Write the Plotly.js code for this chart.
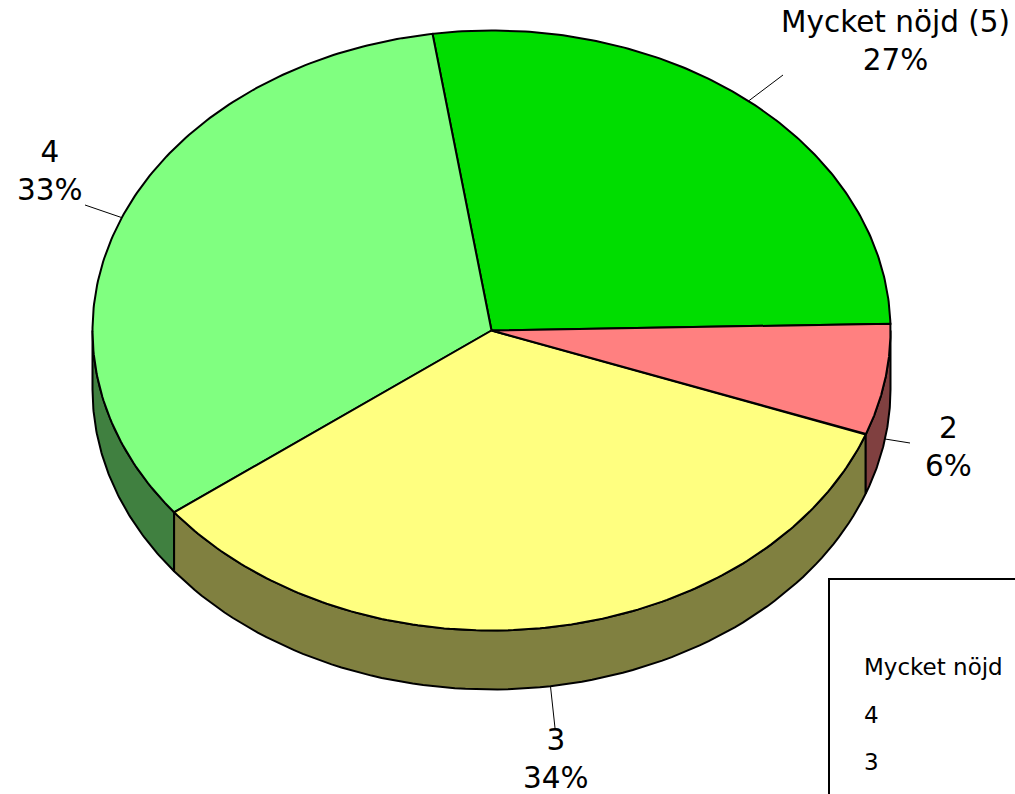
<!DOCTYPE html>
<html>
<head>
<meta charset="utf-8">
<script src="https://cdn.plot.ly/plotly-3.0.1.min.js"></script>
<style>html,body{margin:0;padding:0;background:#fff;}#chart{width:1015px;height:794px;}</style>
</head>
<body>
<div id="chart"></div>
<script>
// ---- data ----
const categories = ["Mycket nöjd (5)", "4", "3", "2"];
const values = [27, 33, 34, 6];
const topColors = ["#00DD00", "#80FF80", "#FFFF80", "#FF8080"];
const sideColors = ["#006F00", "#408040", "#808040", "#804040"];

// ---- geometry / style (not data) ----
const CX = 491.5, CY = 330.5, RA = 399, RB = 300, DEPTH = 59;
const START_DEG = 1.3; // parametric start angle, slices drawn counter-clockwise
const FONT = "DejaVu Sans, Verdana, sans-serif";
const labelPos = [ {x: 895, y: 41, ex: 783, ey: 75},
                   {x: 50, y: 171, ex: 85, ey: 205},
                   {x: 556, y: 759, ex: 555, ey: 728},
                   {x: 948, y: 447, ex: 910, ey: 443} ];
const legendX = 862, legendY0 = 667, legendDY = 47.5;

const total = values.reduce((a, b) => a + b, 0);
const rad = d => d * Math.PI / 180;
const px = t => CX + RA * Math.cos(rad(t));
const py = t => CY - RB * Math.sin(rad(t));

// slice angular intervals
const slices = [];
let acc = START_DEG;
values.forEach((v, i) => {
  const span = v / total * 360;
  slices.push({s: acc, e: acc + span, i: i});
  acc += span;
});

const traces = [];
function arcPts(a, b, n) {
  const xs = [], ys = [];
  for (let k = 0; k <= n; k++) {
    const t = a + (b - a) * k / n;
    xs.push(px(t)); ys.push(py(t));
  }
  return [xs, ys];
}

// side faces (front half: parametric angles 180..360 mod 360)
slices.forEach(sl => {
  [[180, 360], [540, 720]].forEach(([lo, hi]) => {
    const a = Math.max(sl.s, lo), b = Math.min(sl.e, hi);
    if (b - a > 0.01) {
      const [xs, ys] = arcPts(a, b, 80);
      const bx = xs.slice().reverse();
      const by = ys.slice().reverse().map(y => y + DEPTH);
      traces.push({
        type: "scatter", mode: "lines", x: xs.concat(bx, [xs[0]]), y: ys.concat(by, [ys[0]]),
        fill: "toself", fillcolor: sideColors[sl.i], line: {color: "#000", width: 2},
        hoverinfo: "skip", showlegend: false
      });
    }
  });
});

// top faces
slices.forEach(sl => {
  const [xs, ys] = arcPts(sl.s, sl.e, 160);
  traces.push({
    type: "scatter", mode: "lines", x: [CX].concat(xs, [CX]), y: [CY].concat(ys, [CY]),
    fill: "toself", fillcolor: topColors[sl.i], line: {color: "#000", width: 2},
    hoverinfo: "skip", showlegend: false, name: categories[sl.i]
  });
});

// labels and leader lines
const annotations = [];
const shapes = [];
slices.forEach(sl => {
  const mid = (sl.s + sl.e) / 2;
  let sx = px(mid), sy = py(mid);
  if (Math.sin(rad(mid)) < 0) sy += DEPTH;
  const lp = labelPos[sl.i];
  shapes.push({type: "line", xref: "x", yref: "y", x0: sx, y0: sy, x1: lp.ex, y1: lp.ey,
               line: {color: "#000", width: 1}});
  const pct = Math.round(values[sl.i] / total * 100) + "%";
  annotations.push({
    xref: "x", yref: "y", x: lp.x, y: lp.y, xanchor: "center", yanchor: "middle",
    text: categories[sl.i] + "<br>" + pct, showarrow: false, align: "center",
    font: {family: FONT, size: 29.5, color: "#000"}
  });
});

// legend box
shapes.push({type: "rect", xref: "x", yref: "y", x0: 829, y0: 579, x1: 1040, y1: 830,
             line: {color: "#000", width: 2}, fillcolor: "rgba(0,0,0,0)"});
categories.forEach((c, i) => {
  annotations.push({
    xref: "x", yref: "y", x: legendX, y: legendY0 + i * legendDY, xanchor: "left", yanchor: "middle",
    width: 146, align: "left",
    text: c, showarrow: false, font: {family: FONT, size: 23, color: "#000"}
  });
});

const layout = {
  width: 1015, height: 794,
  margin: {l: 0, r: 0, t: 0, b: 0},
  paper_bgcolor: "#fff", plot_bgcolor: "#fff",
  xaxis: {range: [0, 1015], visible: false, fixedrange: true},
  yaxis: {range: [794, 0], visible: false, fixedrange: true},
  showlegend: false,
  annotations: annotations, shapes: shapes
};
Plotly.newPlot("chart", traces, layout, {displayModeBar: false, staticPlot: true});
</script>
</body>
</html>
